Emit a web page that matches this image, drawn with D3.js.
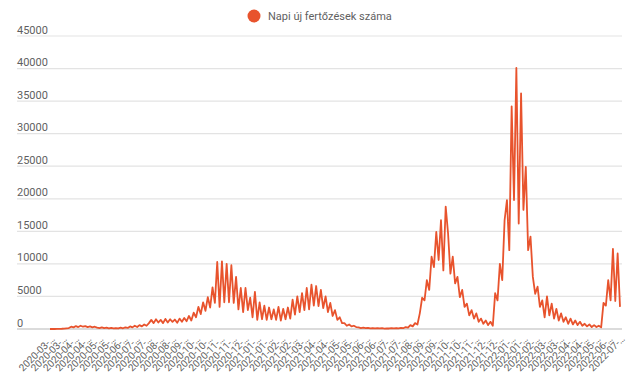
<!DOCTYPE html>
<html>
<head>
<meta charset="utf-8">
<script src="https://cdn.jsdelivr.net/npm/d3@7"></script>
<style>
  body { margin: 0; background: #fff; }
  svg { font-family: Roboto, "Noto Sans", sans-serif; }
</style>
</head>
<body>
<svg id="chart"></svg>
<script>
// legend / series name
var seriesName = "Napi új fertőzések száma";

// x axis categories (shown truncated, like in the original)
var tickLabels = [
  "2020-03", "2020-03", "2020-04", "2020-04", "2020-05", "2020-05", "2020-06", "2020-07",
  "2020-07", "2020-08", "2020-08", "2020-09", "2020-10", "2020-10", "2020-11", "2020-11",
  "2020-12", "2021-01", "2021-01", "2021-02", "2021-02", "2021-03", "2021-04", "2021-04",
  "2021-05", "2021-05", "2021-06", "2021-06", "2021-07", "2021-07", "2021-08", "2021-09",
  "2021-09", "2021-10", "2021-10", "2021-11", "2021-12", "2021-12", "2022-01", "2022-01",
  "2022-02", "2022-03", "2022-03", "2022-04", "2022-04", "2022-05", "2022-06", "2022-07"
];

// y axis ticks
var yTicks = [0, 5000, 10000, 15000, 20000, 25000, 30000, 35000, 40000, 45000];

// new cases (about two readings per week)
var cases2020 = [
  0, 0, 0, 10, 20, 40, 70, 110, 150,
  350, 250, 450, 300, 500, 350, 450, 300, 400, 250, 350,
  200, 120, 250, 130, 200, 100, 180, 90, 150, 80, 200, 110, 250, 160,
  400, 250, 500, 300, 600, 400, 700, 500, 900,
  1400, 900, 1500, 1000, 1400, 900, 1550, 1000, 1500, 1100, 1450, 950, 1600, 1100, 1700,
  1200, 2000, 1300, 2500, 1800, 3400, 2300, 4100, 2800,
  4900, 3300, 6400, 4000,
  10300, 3400, 10400, 4100, 10000, 4100, 9800, 4000
];
var cases2021 = [
  8000, 3000, 6300, 2600, 6300, 2900, 4800, 1800, 5700, 1400, 4100, 1500, 3600,
  1400, 3300, 1500, 3000, 1400, 3400, 1300, 3100, 1500, 3300,
  1600, 4500, 2200, 5000, 2600, 5500,
  2900, 6300, 3000, 6800, 3600, 6600, 3500, 6000,
  3200, 5000, 2600, 4000, 2000, 2900, 1400, 1800, 900,
  900, 500, 700, 400, 500, 300,
  250, 150, 200, 120, 180, 100, 150, 80, 120, 80, 120, 70, 100, 80, 130, 90, 150, 100, 180, 120,
  300, 200, 600, 400, 900, 700,
  2400, 4800, 4400, 7500, 6000, 11100, 9500, 14900, 10600, 16700, 9000, 18800,
  14700, 8500, 11100, 7000, 8000, 4900, 6000, 3400, 3900, 2100, 2900, 1600,
  2400, 1100, 1600, 800, 1300, 600, 1100, 500
];
var cases2022 = [
  5500, 4400, 10000, 7500, 16700, 19800, 12100, 34200, 19800, 40100, 16200, 36200,
  18300, 24900, 12100, 14200,
  8000, 5400, 6500, 3400, 4400, 1800, 5000, 2100, 3900, 1600, 3100, 1300,
  2400, 1100, 1800, 800, 1600, 700, 1300, 600, 1100, 500, 800, 400,
  700, 300, 600, 300, 500, 250,
  4000, 3600, 7500, 4400, 12300, 4300, 11600, 3400
];
var cases = cases2020.concat(cases2021, cases2022);

var W = 640, H = 385;
var lineColor = "#e8532d";
var svg = d3.select("#chart").attr("width", W).attr("height", H);

var plot = {left: 50, right: 620, top: 36, bottom: 329, gridLeft: 17, gridRight: 622};

var x = d3.scaleLinear().domain([0, cases.length - 1]).range([plot.left, plot.right]);
var xCat = d3.scalePoint().domain(d3.range(tickLabels.length)).range([plot.left, plot.right]);
var y = d3.scaleLinear().domain([0, 45000]).range([plot.bottom, plot.top]);

// gridlines + y labels
var grid = svg.append("g");
grid.selectAll("line").data(yTicks).enter().append("line")
  .attr("x1", plot.gridLeft).attr("x2", plot.gridRight)
  .attr("y1", function(d) { return y(d); }).attr("y2", function(d) { return y(d); })
  .attr("stroke", function(d) { return d === 0 ? "#cfcfcf" : "#e3e3e3"; })
  .attr("stroke-width", function(d) { return d === 0 ? 1.5 : 1.2; });
grid.selectAll("text").data(yTicks).enter().append("text")
  .attr("x", plot.gridLeft)
  .attr("y", function(d) { return y(d) - 2.5; })
  .attr("font-size", 11)
  .attr("fill", "#5f5f5f")
  .text(function(d) { return d; });

// x labels, rotated
svg.append("g").selectAll("text").data(tickLabels).enter().append("text")
  .attr("transform", function(d, i) { return "translate(" + (xCat(i) + 3) + "," + 337 + ") rotate(-45)"; })
  .attr("text-anchor", "end")
  .attr("dy", "0.35em")
  .attr("font-size", 10)
  .attr("fill", "#5f5f5f")
  .text(function(d) { return d + "-…"; });

// the line
var line = d3.line()
  .x(function(d, i) { return x(i); })
  .y(function(d) { return y(d); });
svg.append("path").datum(cases)
  .attr("d", line)
  .attr("fill", "none")
  .attr("stroke", lineColor)
  .attr("stroke-width", 1.8)
  .attr("stroke-linejoin", "round");

// legend
var legend = svg.append("g");
legend.append("circle").attr("cx", 254).attr("cy", 16).attr("r", 6.5).attr("fill", lineColor);
legend.append("text").attr("x", 268).attr("y", 20)
  .attr("font-size", 11).attr("fill", "#5f5f5f").text(seriesName);
</script>
</body>
</html>
